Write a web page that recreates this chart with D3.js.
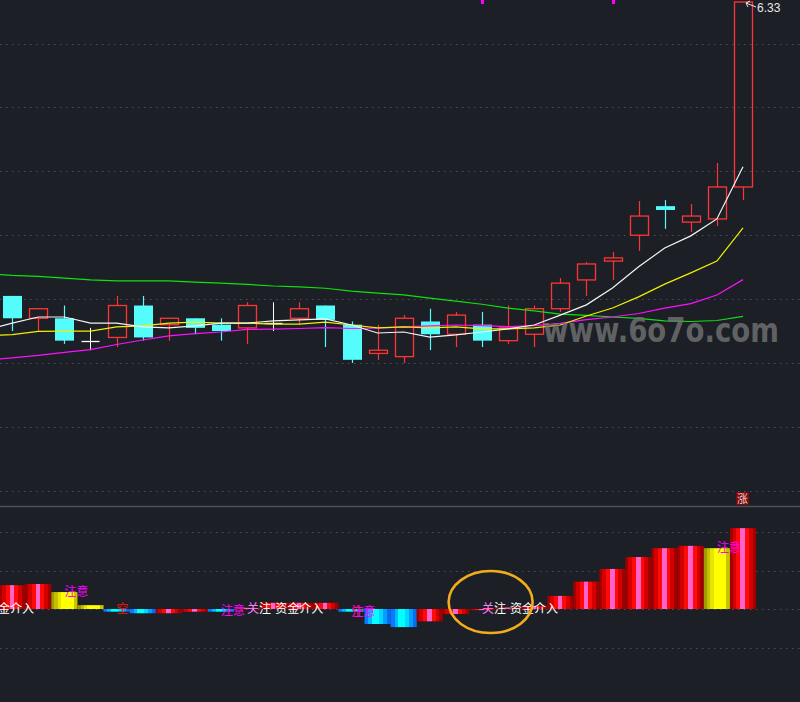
<!DOCTYPE html>
<html><head><meta charset="utf-8">
<script src="https://cdn.jsdelivr.net/npm/d3@7"></script>
<style>html,body{margin:0;padding:0;background:#1c1f26;overflow:hidden}</style>
</head><body>
<svg id="c" width="800" height="702"></svg>
<script>
// ---- data ----
const opens  = [5.41,5.34,5.34,5.27,5.28,5.38,5.32,5.34,5.32,5.31,5.325,5.34,5.38,5.32,5.23,5.22,5.33,5.29,5.32,5.27,5.29,5.37,5.46,5.519,5.60,5.691,5.641,5.651,5.751];
const closes = [5.34,5.37,5.27,5.27,5.38,5.28,5.34,5.31,5.30,5.38,5.325,5.37,5.335,5.21,5.24,5.34,5.29,5.35,5.27,5.31,5.37,5.45,5.51,5.529,5.66,5.679,5.66,5.751,6.33];
const highs  = [5.41,5.37,5.38,5.31,5.41,5.41,5.34,5.34,5.34,5.39,5.39,5.39,5.38,5.33,5.32,5.35,5.37,5.36,5.36,5.38,5.38,5.466,5.516,5.548,5.707,5.71,5.698,5.826,6.33];
const lows   = [5.30,5.30,5.26,5.24,5.25,5.27,5.27,5.29,5.27,5.26,5.30,5.32,5.25,5.20,5.21,5.20,5.24,5.25,5.25,5.26,5.25,5.36,5.41,5.46,5.551,5.62,5.61,5.629,5.71];
// moving averages, first value belongs to the day before the first candle
const ma5  = [5.303,5.325,5.344,5.344,5.325,5.325,5.313,5.310,5.316,5.325,5.325,5.332,5.335,5.338,5.319,5.294,5.297,5.281,5.288,5.297,5.307,5.319,5.350,5.382,5.435,5.501,5.560,5.598,5.651,5.814];
const ma10 = [5.285,5.289,5.299,5.300,5.300,5.313,5.316,5.325,5.328,5.325,5.325,5.322,5.322,5.328,5.319,5.310,5.313,5.310,5.313,5.307,5.307,5.310,5.319,5.347,5.372,5.407,5.447,5.482,5.519,5.623];
const ma20 = [5.209,5.216,5.224,5.233,5.242,5.258,5.272,5.285,5.292,5.297,5.305,5.306,5.308,5.311,5.308,5.309,5.313,5.316,5.319,5.317,5.314,5.317,5.324,5.336,5.344,5.355,5.372,5.386,5.413,5.461];
const ma60 = [5.479,5.474,5.471,5.466,5.460,5.457,5.457,5.457,5.453,5.450,5.446,5.441,5.438,5.434,5.425,5.419,5.413,5.403,5.394,5.384,5.372,5.363,5.353,5.349,5.344,5.340,5.332,5.330,5.333,5.346];
const priceGrid = [6.2,6.0,5.8,5.6,5.4,5.2,5.0,4.8];
const lastLabel = "6.33";
// lower indicator
const barValues = [0.62,0.65,0.44,0.10,-0.07,-0.11,-0.11,-0.07,-0.07,0.03,0.16,0.16,0.16,-0.07,-0.39,-0.47,-0.32,-0.13,-0.03,0.04,0.08,0.34,0.71,1.04,1.35,1.58,1.64,1.58,2.10];
const barTypes  = ["r","r","y","y","b","b","r","r","b","r","r","r","r","b","b","b","r","r","r","r","r","r","r","r","r","r","r","y","r"];
const volGrid = [2,1,0,-1];
const notes = [
  {i:-1, v:-0.10, t:"资金介入", c:"#ffffff"},
  {i:2,  v:0.34,  t:"注意", c:"#ff00ff"},
  {i:4,  v:-0.10, t:"空", c:"#ff1010"},
  {i:8,  v:-0.16, t:"注意", c:"#ff00ff"},
  {i:9,  v:-0.10, t:"关注 资金介入", c:"#ffffff"},
  {i:13, v:-0.18, t:"空", c:"#ff1010"},
  {i:13, v:-0.18, t:"注意", c:"#ff00ff"},
  {i:18, v:-0.10, t:"关注 资金介入", c:"#ffffff"},
  {i:27, v:1.48,  t:"注意", c:"#ff00ff"}
];
const topMarks = [18, 23];
const riseMark = {i:28, t:"涨"};
const highlight = {i:18.33, v:0.18};

// ---- scales ----
const W = 800, H = 702;
const svg = d3.select("#c");
const x = d3.scaleLinear().domain([0,28]).range([12.2,743]);
const step = x(1)-x(0);
const yP = d3.scaleLinear().domain([4.8,6.33]).range([490.8,2]);
const yV = d3.scaleLinear().domain([-1,2]).range([647.5,532]);

svg.append("rect").attr("width",W).attr("height",H).attr("fill","#1c1f26");

const defs = svg.append("defs");
function grad(id, stops){
  const g = defs.append("linearGradient").attr("id",id).attr("x1","0").attr("x2","1").attr("y1","0").attr("y2","0");
  stops.forEach(s=>g.append("stop").attr("offset",s[0]).attr("stop-color",s[1]));
}
grad("gR",[[0,"#a00000"],[0.1,"#a00000"],[0.1,"#d40000"],[0.25,"#d40000"],[0.25,"#ff0a0a"],[0.4,"#ff0a0a"],[0.4,"#ff62c8"],[0.58,"#ff62c8"],[0.58,"#ff0a0a"],[0.72,"#ff0a0a"],[0.72,"#d40000"],[0.87,"#d40000"],[0.87,"#a20000"],[1,"#a20000"]]);
grad("gY",[[0,"#a09c00"],[0.12,"#a09c00"],[0.12,"#c4c000"],[0.25,"#c4c000"],[0.25,"#e6e400"],[0.38,"#e6e400"],[0.38,"#ffff00"],[0.85,"#ffff00"],[0.85,"#c8c400"],[1,"#c8c400"]]);
grad("gB",[[0,"#0a78ff"],[0.15,"#0a78ff"],[0.15,"#00b8ff"],[0.3,"#00b8ff"],[0.3,"#00ffff"],[0.55,"#00ffff"],[0.55,"#00d8ff"],[0.7,"#00d8ff"],[0.7,"#00a0ff"],[0.85,"#00a0ff"],[0.85,"#0a6cf0"],[1,"#0a6cf0"]]);
defs.append("clipPath").attr("id","clipTop").append("rect").attr("x",0).attr("y",0).attr("width",W).attr("height",505);
defs.append("clipPath").attr("id","clipBot").append("rect").attr("x",0).attr("y",507).attr("width",W).attr("height",H-507);

// ---- grid ----
const gridColor = "#4b505b";
svg.append("g").selectAll("line").data(priceGrid).join("line")
  .attr("x1",0).attr("x2",W).attr("y1",d=>Math.round(yP(d))+0.5).attr("y2",d=>Math.round(yP(d))+0.5)
  .attr("stroke",gridColor).attr("stroke-dasharray","1.5,4.5");
svg.append("g").selectAll("line").data(volGrid).join("line")
  .attr("x1",0).attr("x2",W).attr("y1",d=>Math.round(yV(d))+0.5).attr("y2",d=>Math.round(yV(d))+0.5)
  .attr("stroke",gridColor).attr("stroke-dasharray","1.5,4.5");
svg.append("line").attr("x1",0).attr("x2",W).attr("y1",506.5).attr("y2",506.5).attr("stroke","#4a4f5c").attr("stroke-width",1.5);

// ---- candles ----
const topG = svg.append("g").attr("clip-path","url(#clipTop)");
const RED="#ff3535", CYAN="#54fcfc";
const candles = opens.map((o,i)=>({i,o,c:closes[i],h:highs[i],l:lows[i]}));
const cg = topG.append("g");
candles.forEach(d=>{
  const cx = Math.round(x(d.i))+0.5;
  const bw = 18;
  const g = cg.append("g");
  if (Math.abs(d.o-d.c) < 1e-6) {
    g.append("line").attr("x1",cx).attr("x2",cx).attr("y1",yP(d.h)).attr("y2",yP(d.l)).attr("stroke","#ffffff");
    g.append("line").attr("x1",cx-bw/2).attr("x2",cx+bw/2).attr("y1",Math.round(yP(d.o))+0.5).attr("y2",Math.round(yP(d.o))+0.5).attr("stroke","#ffffff").attr("stroke-width",1.3);
  } else if (d.c > d.o) {
    const yt = yP(d.c), yb = yP(d.o);
    g.append("line").attr("x1",cx).attr("x2",cx).attr("y1",yP(d.h)).attr("y2",yt).attr("stroke",RED).attr("stroke-width",1.2);
    g.append("line").attr("x1",cx).attr("x2",cx).attr("y1",yb).attr("y2",yP(d.l)).attr("stroke",RED).attr("stroke-width",1.2);
    g.append("rect").attr("x",cx-bw/2).attr("y",yt).attr("width",bw).attr("height",Math.max(1,yb-yt))
      .attr("fill","none").attr("stroke",RED).attr("stroke-width",1.3);
  } else {
    const yt = yP(d.o), yb = yP(d.c);
    g.append("line").attr("x1",cx).attr("x2",cx).attr("y1",yP(d.h)).attr("y2",yP(d.l)).attr("stroke",CYAN).attr("stroke-width",1.2);
    g.append("rect").attr("x",cx-bw/2-0.5).attr("y",yt).attr("width",bw+1).attr("height",Math.max(2,yb-yt)).attr("fill",CYAN);
  }
});

// ---- moving averages ----
const line = d3.line().x((d,k)=>x(k-1)).y(d=>yP(d));
[[ma60,"#10e010"],[ma20,"#ff10ff"],[ma10,"#f0f000"],[ma5,"#f4f4f4"]].forEach(([arr,col])=>{
  topG.append("path").attr("d",line(arr)).attr("fill","none").attr("stroke",col).attr("stroke-width",1.2);
});

// watermark
topG.append("text").attr("x",543).attr("y",342).attr("textLength",236).attr("lengthAdjust","spacingAndGlyphs")
  .attr("font-family","DejaVu Sans, sans-serif").attr("font-weight","bold").attr("font-size",33)
  .attr("fill","#747474").attr("fill-opacity",0.8).text("www.6o7o.com");

// top magenta marks
topG.selectAll(".tm").data(topMarks).join("rect").attr("class","tm")
  .attr("x",d=>Math.round(x(d))-1).attr("y",0).attr("width",3).attr("height",4).attr("fill","#ff00ff");

// last price label
const lx = x(28), ly = yP(6.33);
topG.append("path").attr("d",`M${lx+13},${ly+5} L${lx+3},${ly+1}`).attr("stroke","#e8e8e8").attr("fill","none");
topG.append("path").attr("d",`M${lx+3},${ly+1} l4,-2 M${lx+3},${ly+1} l2,4`).attr("stroke","#e8e8e8").attr("fill","none");
topG.append("text").attr("x",lx+14).attr("y",ly+10).attr("font-family","Liberation Sans, Arial, sans-serif")
  .attr("font-size",12).attr("fill","#e8e8e8").text(lastLabel);

// rise marker
const rg = svg.append("g");
rg.append("rect").attr("x",Math.round(x(riseMark.i))-7).attr("y",492).attr("width",13).attr("height",13).attr("fill","#7c0a0a");
rg.append("text").attr("x",Math.round(x(riseMark.i))-0.5).attr("y",503).attr("text-anchor","middle")
  .attr("font-family","Noto Sans CJK SC, sans-serif").attr("font-size",11).attr("fill","#f0d0d0").text(riseMark.t);

// ---- lower bars ----
const bot = svg.append("g").attr("clip-path","url(#clipBot)");
const gid = {r:"url(#gR)", y:"url(#gY)", b:"url(#gB)"};
bot.selectAll(".bar").data(barValues).join("rect").attr("class","bar")
  .attr("x",(d,i)=>x(i)-step/2).attr("width",step)
  .attr("y",d=>Math.min(yV(0),yV(d))).attr("height",d=>Math.abs(yV(d)-yV(0)))
  .attr("fill",(d,i)=>gid[barTypes[i]]);

// notes
notes.forEach(n=>{
  const t = bot.append("text").attr("x",x(n.i)).attr("y",yV(n.v))
    .attr("font-family","Noto Sans CJK SC, sans-serif").attr("font-size",12).attr("fill",n.c);
  if (n.t.startsWith("关")) {
    const parts = n.t.split(" ");
    t.append("tspan").attr("fill","#ff80ff").text(parts[0].slice(0,1));
    t.append("tspan").text(parts[0].slice(1));
    t.append("tspan").attr("dx",4).text(parts[1]);
  } else t.text(n.t);
});

// highlight ellipse
svg.append("ellipse").attr("cx",x(highlight.i)).attr("cy",yV(highlight.v)).attr("rx",42).attr("ry",31)
  .attr("fill","none").attr("stroke","#f3ad1c").attr("stroke-width",2.6);
</script>
</body></html>
